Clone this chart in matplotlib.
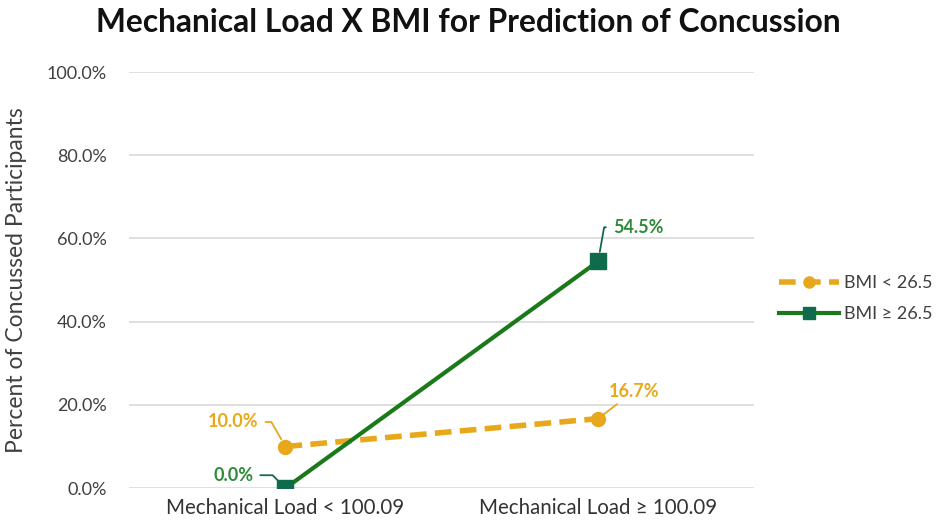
import matplotlib.pyplot as plt
from matplotlib.ticker import FuncFormatter

plt.rcParams['font.family'] = ['Lato', 'DejaVu Sans']

categories = ["Mechanical Load < 100.09", "Mechanical Load \u2265 100.09"]
bmi_low = [10.0, 16.7]
bmi_high = [0.0, 54.5]
series_names = ["BMI < 26.5", "BMI \u2265 26.5"]

orange = "#E8A81C"
green_line = "#1A7A1A"
green_marker = "#0F6B4B"
green_text = "#2E8B3A"

fig = plt.figure(figsize=(9.36, 5.26), dpi=100)
ax = fig.add_axes([0.138, 0.072, 0.668, 0.791])

x = list(range(len(categories)))
ax.plot(x, bmi_low, color=orange, lw=4, ls=(0, (3, 1.5)), marker="o", ms=10,
        label=series_names[0], zorder=3)
ax.plot(x, bmi_high, color=green_line, lw=3, marker="s", ms=11,
        mfc=green_marker, mec=green_marker, label=series_names[1], zorder=4)

ax.set_xlim(-0.5, 1.5)
ax.set_ylim(0, 100)
ax.set_yticks(range(0, 101, 20))
ax.yaxis.set_major_formatter(FuncFormatter(lambda v, p: f"{v:.1f}%"))
ax.set_xticks(x)
ax.set_xticklabels(categories, fontsize=14.8, color="#333333")
ax.tick_params(axis="y", labelsize=13, colors="#404040", length=0, pad=16)
ax.tick_params(axis="x", length=0, pad=7)
ax.grid(axis="y", color="#D9D9D9", lw=1.2)
ax.set_axisbelow(True)
for s in ax.spines.values():
    s.set_visible(False)

ax.set_ylabel("Percent of Concussed Participants", fontsize=16.5, color="#404040")
ax.yaxis.set_label_coords(-0.163, 0.5)
fig.suptitle("Mechanical Load X BMI for Prediction of Concussion", fontsize=22.9,
             fontweight="bold", x=0.50, y=0.985, color="#111111")

# data labels with leader lines
lab_kw = dict(fontsize=13, fontweight="bold", va="center", ha="center")
ax.annotate(f"{bmi_low[0]:.1f}%", xy=(x[0], bmi_low[0]), xytext=(-0.167, 15.9),
            color=orange, **lab_kw,
            arrowprops=dict(arrowstyle="-", color=orange, lw=1.3,
                            shrinkA=3, shrinkB=6,
                            connectionstyle="angle,angleA=0,angleB=120,rad=0"))
ax.annotate(f"{bmi_high[0]:.1f}%", xy=(x[0], bmi_high[0]), xytext=(-0.167, 3.1),
            color=green_text, **lab_kw,
            arrowprops=dict(arrowstyle="-", color=green_marker, lw=1.3,
                            shrinkA=3, shrinkB=7,
                            connectionstyle="angle,angleA=0,angleB=135,rad=0"))
ax.annotate(f"{bmi_high[1]:.1f}%", xy=(x[1], bmi_high[1]), xytext=(1.128, 62.7),
            color=green_text, **lab_kw,
            arrowprops=dict(arrowstyle="-", color=green_marker, lw=1.3,
                            shrinkA=3, shrinkB=7,
                            connectionstyle="angle,angleA=180,angleB=80,rad=0"))
ax.annotate(f"{bmi_low[1]:.1f}%", xy=(x[1], bmi_low[1]), xytext=(1.115, 23.3),
            color=orange, **lab_kw,
            arrowprops=dict(arrowstyle="-", color=orange, lw=1.3,
                            shrinkA=2, shrinkB=5))

leg = ax.legend(loc="center left", bbox_to_anchor=(1.014, 0.455), frameon=False,
                fontsize=13, handlelength=3.3, handletextpad=0.3, labelspacing=0.85,
                markerscale=0.8)
for t in leg.get_texts():
    t.set_color("#404040")

fig.savefig("out.png", dpi=100)
